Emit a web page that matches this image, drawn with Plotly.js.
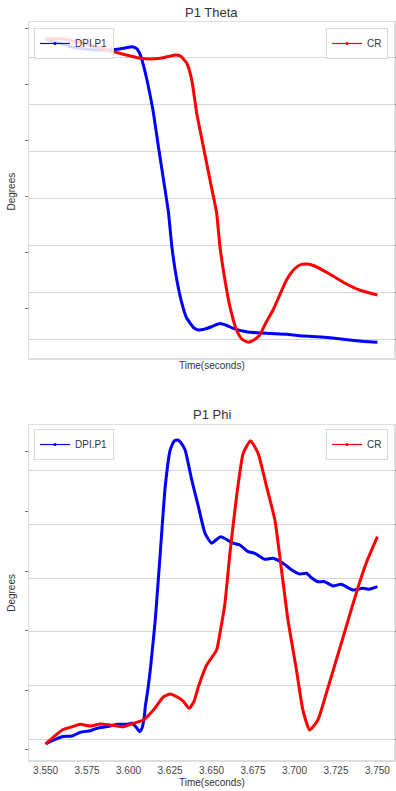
<!DOCTYPE html>
<html>
<head>
<meta charset="utf-8">
<script src="https://cdn.plot.ly/plotly-3.0.1.min.js"></script>
<style>html,body{margin:0;padding:0;background:#fff;}#chart{width:396px;height:791px;}</style>
</head>
<body>
<div id="chart"></div>
<script>
// ---- P1 Theta ----
const thetaDpiTime = [3.5500,3.5560,3.5650,3.5740,3.5830,3.5920,3.5980,3.6021,3.6047,3.6071,3.6089,3.6111,3.6131,3.6150,3.6180,3.6211,3.6241,3.6261,3.6291,3.6321,3.6347,3.6371,3.6395,3.6421,3.6461,3.6503,3.6551,3.6593,3.6631,3.6711,3.6832,3.6952,3.7032,3.7132,3.7230,3.7332,3.7422,3.7500];
const thetaDpiVal  = [8.21,7.67,6.83,6.42,6.24,6.33,6.59,6.83,6.51,5.34,3.55,0.86,-2.01,-5.05,-11.09,-17.06,-22.97,-29.01,-34.98,-39.10,-41.61,-42.69,-43.58,-43.94,-43.76,-43.32,-42.78,-43.14,-43.64,-44.25,-44.54,-44.71,-44.96,-45.14,-45.38,-45.73,-46.00,-46.15];
const thetaCrTime  = [3.5500,3.5560,3.5610,3.5668,3.5730,3.5800,3.5871,3.5951,3.6011,3.6071,3.6131,3.6191,3.6239,3.6291,3.6317,3.6351,3.6381,3.6411,3.6451,3.6491,3.6531,3.6551,3.6581,3.6611,3.6651,3.6683,3.6721,3.6755,3.6791,3.6827,3.6871,3.6911,3.6952,3.6989,3.7032,3.7074,3.7122,3.7212,3.7302,3.7392,3.7500];
const thetaCrVal   = [33.97,34.08,33.97,33.55,33.06,32.38,31.64,30.89,30.36,29.87,29.72,29.87,30.26,30.57,30.26,28.81,25.26,18.18,11.08,4.01,-3.01,-10.17,-17.25,-22.92,-27.87,-29.79,-30.49,-30.00,-28.94,-26.39,-23.62,-20.44,-17.25,-15.33,-14.06,-13.85,-14.27,-15.97,-17.89,-19.38,-20.44];

// ---- P1 Phi ----
const phiDpiTime = [3.5500,3.5550,3.5600,3.5660,3.5710,3.5770,3.5811,3.5871,3.5931,3.5991,3.6021,3.6051,3.6066,3.6081,3.6095,3.6101,3.6116,3.6131,3.6161,3.6191,3.6221,3.6251,3.6275,3.6297,3.6317,3.6341,3.6381,3.6421,3.6461,3.6501,3.6527,3.6555,3.6587,3.6621,3.6671,3.6721,3.6761,3.6821,3.6871,3.6931,3.6984,3.7032,3.7072,3.7104,3.7141,3.7182,3.7232,3.7282,3.7352,3.7412,3.7452,3.7500];
const phiDpiVal  = [-8.99,-8.32,-7.77,-7.65,-7.03,-6.77,-6.36,-6.09,-5.69,-5.69,-5.52,-6.36,-6.93,-6.36,-4.42,-2.74,0.06,3.41,11.79,22.97,34.13,40.28,41.79,41.96,41.46,40.28,35.26,30.78,26.32,24.65,25.20,25.75,25.37,24.75,24.36,23.24,22.97,21.96,22.13,21.29,20.17,19.50,19.62,18.83,18.21,18.21,17.49,17.77,16.82,17.10,16.94,17.37];
const phiCrTime  = [3.5500,3.5550,3.5600,3.5660,3.5710,3.5770,3.5830,3.5890,3.5970,3.6030,3.6090,3.6150,3.6211,3.6251,3.6291,3.6329,3.6365,3.6395,3.6421,3.6471,3.6531,3.6551,3.6581,3.6611,3.6651,3.6691,3.6735,3.6781,3.6832,3.6882,3.6922,3.6961,3.7012,3.7051,3.7092,3.7141,3.7192,3.7252,3.7312,3.7372,3.7432,3.7500];
const phiCrVal   = [-0.93,0.43,1.68,2.29,2.74,2.42,2.80,2.61,2.29,2.93,3.54,5.40,7.88,8.39,7.88,7.08,5.72,7.08,9.75,13.79,16.59,19.70,25.29,34.61,45.15,53.24,55.59,53.24,47.02,40.81,31.49,22.18,12.86,5.40,1.68,3.54,8.52,14.72,20.93,27.15,32.74,37.70];

const xTicks = [3.550,3.575,3.600,3.625,3.650,3.675,3.700,3.725,3.750];
const thetaLeftTicks  = [10,0,-10,-20,-30,-40];
const thetaRightTicks = [30,20,10,0,-10,-20,-30];
const phiLeftTicks    = [40,30,20,10,0,-10];
const phiRightTicks   = [50,40,30,20,10,0];

const BLUE = '#0000ff', RED = '#ff0000';
const FONT = 'Liberation Sans, Arial, sans-serif';
const FRAME = '#dddddd', GRID = '#d6d6d6';

function tr(x, y, name, color, xa, ya) {
  return {x: x, y: y, name: name, type: 'scatter', mode: 'lines',
    line: {color: color, width: 3, shape: 'spline', smoothing: 0.5},
    xaxis: xa, yaxis: ya, showlegend: false};
}
// legend-only entries (thin line with dot, as in the reference legend)
function legTr(name, color, xa, ya, leg) {
  return {x: [null], y: [null], name: name, type: 'scatter', mode: 'lines+markers',
    line: {color: color, width: 1.2}, marker: {color: color, size: 3},
    xaxis: xa, yaxis: ya, legend: leg, showlegend: true};
}

const data = [
  tr(thetaDpiTime, thetaDpiVal, 'DPI.P1', BLUE, 'x', 'y'),
  tr(thetaCrTime, thetaCrVal, 'CR', RED, 'x', 'y2'),
  tr(phiDpiTime, phiDpiVal, 'DPI.P1', BLUE, 'x2', 'y3'),
  tr(phiCrTime, phiCrVal, 'CR', RED, 'x2', 'y4'),
  legTr('DPI.P1', BLUE, 'x', 'y', 'legend'),
  legTr('CR', RED, 'x', 'y2', 'legend2'),
  legTr('DPI.P1', BLUE, 'x2', 'y3', 'legend3'),
  legTr('CR', RED, 'x2', 'y4', 'legend4')
];

function xax(anchor, labels) {
  return {anchor: anchor, range: [3.54, 3.76], tickvals: xTicks, tickformat: '.3f',
    showticklabels: labels, ticks: '', showgrid: false, zeroline: false,
    showline: true, mirror: true, linecolor: FRAME, linewidth: 1.5,
    tickfont: {family: FONT, size: 10, color: '#444'}};
}
function yleft(domain, anchor, range, ticks) {
  return {domain: domain, anchor: anchor, range: range, tickvals: ticks, showticklabels: false,
    ticks: 'outside', ticklen: 3, tickcolor: '#777', tickwidth: 1,
    showgrid: false, zeroline: false, showline: true, mirror: true, linecolor: FRAME, linewidth: 1.5};
}
function yright(over, anchor, range, ticks) {
  return {overlaying: over, anchor: anchor, side: 'right', range: range, tickvals: ticks, showticklabels: false,
    ticks: 'outside', ticklen: 3, tickcolor: '#777', tickwidth: 1,
    showgrid: true, gridcolor: GRID, gridwidth: 1, zeroline: false, showline: false};
}
function leg(x, xanchor, y) {
  return {x: x, xanchor: xanchor, y: y, yanchor: 'top', xref: 'paper', yref: 'paper',
    bgcolor: 'rgba(255,255,255,0.85)', bordercolor: '#d8d8d8', borderwidth: 1,
    font: {family: FONT, size: 10, color: '#333'}, itemwidth: 30, tracegroupgap: 0};
}

const TOP = [0.5447, 1], BOT = [0, 0.4539];
const layout = {
  width: 396, height: 791,
  margin: {l: 29, r: 2, t: 22, b: 31},
  paper_bgcolor: '#fff', plot_bgcolor: '#fff',
  showlegend: true,
  xaxis: xax('y', false),
  yaxis: yleft(TOP, 'x', [-48.96, 11.25], thetaLeftTicks),
  yaxis2: yright('y', 'x', [-33.83, 37.59], thetaRightTicks),
  xaxis2: Object.assign(xax('y3', true), {matches: 'x'}),
  yaxis3: yleft(BOT, 'x2', [-11.68, 44.47], phiLeftTicks),
  yaxis4: yright('y3', 'x2', [-3.91, 58.51], phiRightTicks),
  legend: leg(0.0137, 'left', 0.9919),
  legend2: leg(0.9836, 'right', 0.9919),
  legend3: leg(0.0137, 'left', 0.4485),
  legend4: leg(0.9836, 'right', 0.4485),
  annotations: [
    {text: 'P1 Theta', x: 0.5, y: 1.0129, xref: 'paper', yref: 'paper', xanchor: 'center', yanchor: 'middle', showarrow: false, font: {family: FONT, size: 13, color: '#333'}},
    {text: 'P1 Phi', x: 0.5, y: 0.4675, xref: 'paper', yref: 'paper', xanchor: 'center', yanchor: 'middle', showarrow: false, font: {family: FONT, size: 13, color: '#333'}},
    {text: 'Time(seconds)', x: 0.5, y: 0.5339, xref: 'paper', yref: 'paper', xanchor: 'center', yanchor: 'middle', showarrow: false, font: {family: FONT, size: 10, color: '#333'}},
    {text: 'Time(seconds)', x: 0.5, y: -0.0308, xref: 'paper', yref: 'paper', xanchor: 'center', yanchor: 'middle', showarrow: false, font: {family: FONT, size: 10, color: '#333'}},
    {text: 'Degrees', x: -0.047, y: 0.770, xref: 'paper', yref: 'paper', xanchor: 'center', yanchor: 'middle', textangle: -90, showarrow: false, font: {family: FONT, size: 10, color: '#333'}},
    {text: 'Degrees', x: -0.047, y: 0.2263, xref: 'paper', yref: 'paper', xanchor: 'center', yanchor: 'middle', textangle: -90, showarrow: false, font: {family: FONT, size: 10, color: '#333'}}
  ]
};

Plotly.newPlot('chart', data, layout, {displayModeBar: false, staticPlot: true});
</script>
</body>
</html>
